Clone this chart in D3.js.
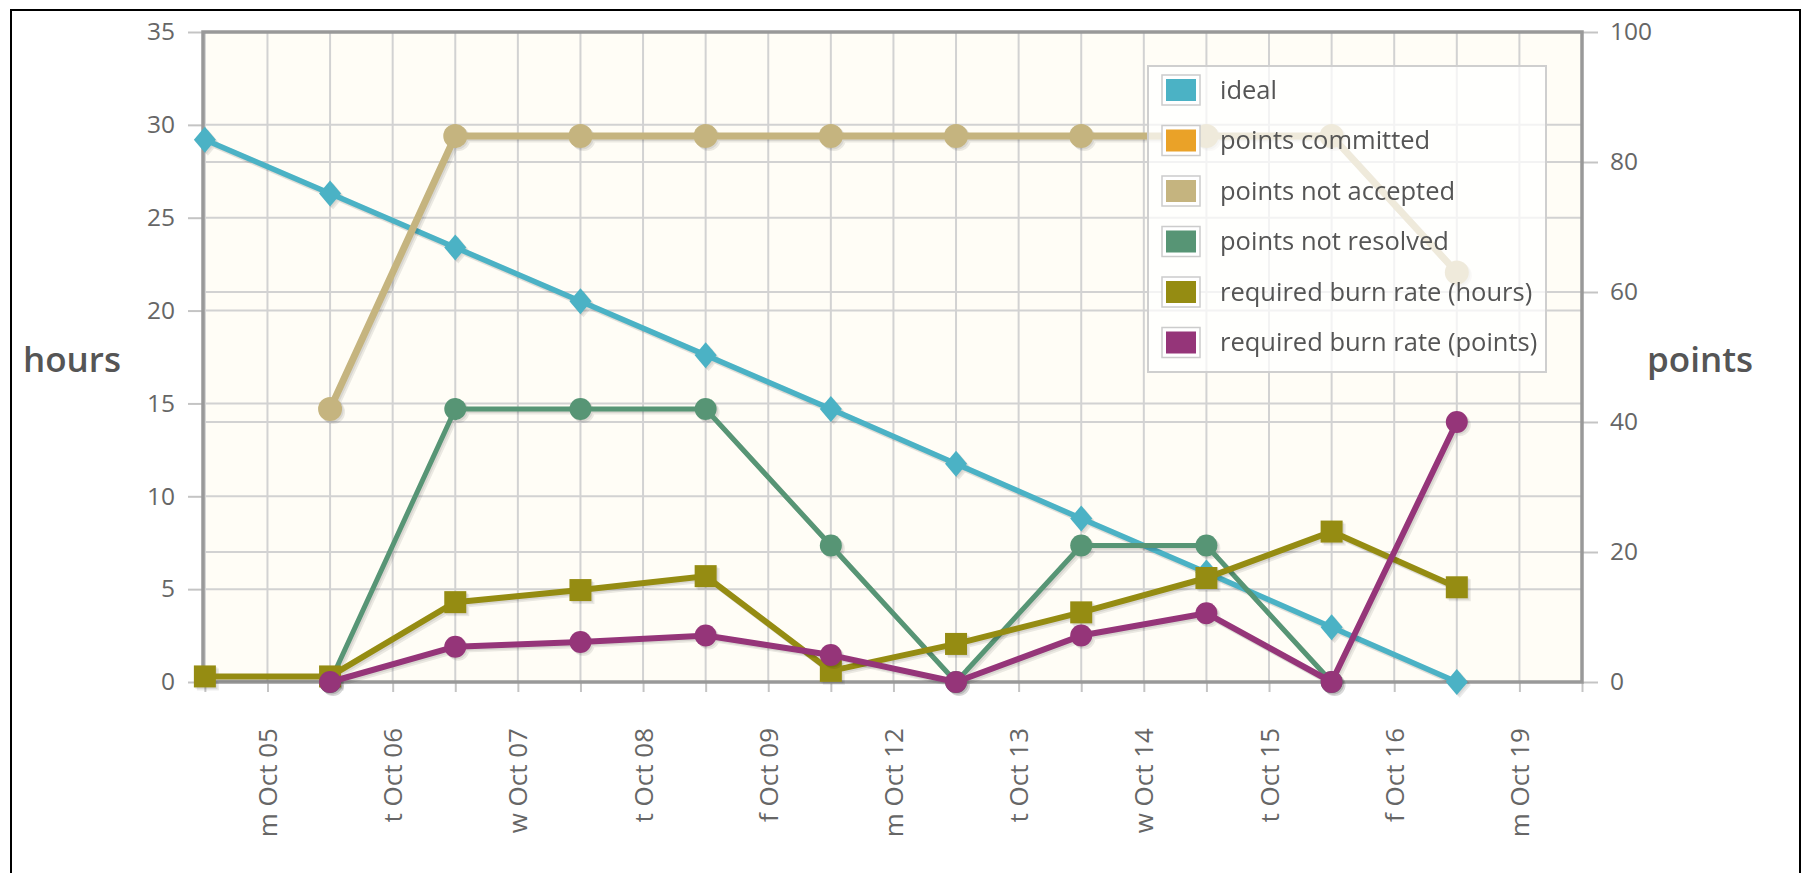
<!DOCTYPE html>
<html>
<head>
<meta charset="utf-8">
<script src="https://cdn.jsdelivr.net/npm/d3@7"></script>
<style>
  body { margin: 0; background: #fff; }
  svg { display: block; font-family: "Open Sans", sans-serif; }
</style>
</head>
<body>
<svg width="1802" height="873"></svg>
<script>
// day labels sit between the daily points
var days = ["m Oct 05", "t Oct 06", "w Oct 07", "t Oct 08", "f Oct 09", "m Oct 12",
            "t Oct 13", "w Oct 14", "t Oct 15", "f Oct 16", "m Oct 19"];
var hoursTicks = [0, 5, 10, 15, 20, 25, 30, 35];
var pointsTicks = [0, 20, 40, 60, 80, 100];

// values per point (index 0..10)
var ideal = [29.2, 26.3, 23.4, 20.5, 17.6, 14.7, 11.75, 8.8, 5.9, 2.95, 0];            // hours
var pointsCommitted = [];                                                               // points
var pointsNotAccepted = [null, 42, 84, 84, 84, 84, 84, 84, 84, 84, 63];                 // points
var pointsNotResolved = [null, 0, 42, 42, 42, 21, 0, 21, 21, 0, null];                  // points
var burnHours = [0.3, 0.3, 4.3, 4.95, 5.7, 0.6, 2.05, 3.75, 5.6, 8.1, 5.1];             // hours
var burnPoints = [null, 0, 1.9, 2.15, 2.5, 1.45, 0, 2.5, 3.7, 0, 14.0];                 // hours

var svg = d3.select("svg");

var plotLeft = 203, plotRight = 1582, plotTop = 32, plotBottom = 682;

var x = d3.scaleLinear().domain([-0.015, 11]).range([plotLeft, plotRight]);
var yH = d3.scaleLinear().domain([0, 35]).range([plotBottom, plotTop]);
var yP = d3.scaleLinear().domain([0, 100]).range([plotBottom, plotTop]);

// outer frame
svg.append("rect")
    .attr("x", 11).attr("y", 10).attr("width", 1789).attr("height", 880)
    .attr("fill", "none").attr("stroke", "#000").attr("stroke-width", 2);

// plot background
svg.append("rect")
    .attr("x", plotLeft).attr("y", plotTop)
    .attr("width", plotRight - plotLeft).attr("height", plotBottom - plotTop)
    .attr("fill", "#fffdf6");

// grid
var halfSteps = d3.range(0, 11.01, 0.5);
var grid = svg.append("g").attr("stroke", "#d2d2d2").attr("stroke-width", 2);
grid.selectAll(".vx").data(halfSteps).join("line")
    .attr("x1", function(d) { return x(d); }).attr("x2", function(d) { return x(d); })
    .attr("y1", plotTop).attr("y2", plotBottom);
grid.selectAll(".hh").data(hoursTicks).join("line")
    .attr("x1", plotLeft).attr("x2", plotRight)
    .attr("y1", function(d) { return yH(d); }).attr("y2", function(d) { return yH(d); });
grid.selectAll(".hp").data(pointsTicks).join("line")
    .attr("x1", plotLeft).attr("x2", plotRight)
    .attr("y1", function(d) { return yP(d); }).attr("y2", function(d) { return yP(d); });

// axes
var xAxis = svg.append("g")
    .attr("transform", "translate(0," + plotBottom + ")")
    .call(d3.axisBottom(x).tickValues(halfSteps).tickSize(10)
      .tickFormat(function(d) { return d % 1 === 0.5 ? days[Math.floor(d)] : ""; }));
xAxis.selectAll("text")
    .attr("transform", "rotate(-90)")
    .attr("text-anchor", "end")
    .attr("x", -46).attr("y", 0).attr("dy", "0.35em");

var yAxisL = svg.append("g")
    .attr("transform", "translate(" + plotLeft + ",0)")
    .call(d3.axisLeft(yH).tickValues(hoursTicks).tickSize(15).tickPadding(13));

var yAxisR = svg.append("g")
    .attr("transform", "translate(" + plotRight + ",0)")
    .call(d3.axisRight(yP).tickValues(pointsTicks).tickSize(16).tickPadding(12));

svg.selectAll(".domain").remove();
[xAxis, yAxisL, yAxisR].forEach(function(a) {
  a.attr("font-family", null).attr("font-size", null);
  a.selectAll("line").attr("stroke", "#c4c4c4").attr("stroke-width", 2);
  a.selectAll("text").attr("fill", "#666").style("font-size", "24.5px");
});
xAxis.selectAll("text").style("font-size", "26px");

// plot border
svg.append("rect")
    .attr("x", plotLeft).attr("y", plotTop)
    .attr("width", plotRight - plotLeft).attr("height", plotBottom - plotTop)
    .attr("fill", "none").attr("stroke", "#999").attr("stroke-width", 3.5);

// axis titles
svg.append("text").attr("x", 72).attr("y", 372).attr("text-anchor", "middle")
    .attr("fill", "#555").style("font-size", "35px").style("font-weight", 600).text("hours");
svg.append("text").attr("x", 1700).attr("y", 372).attr("text-anchor", "middle")
    .attr("fill", "#555").style("font-size", "35px").style("font-weight", 600).text("points");

// series
var series = [
  {name: "ideal", color: "#4bb2c5", data: ideal, y: yH, width: 5.5, marker: "diamond"},
  {name: "points committed", color: "#EAA228", data: pointsCommitted, y: yP, width: 6, marker: "circle"},
  {name: "points not accepted", color: "#c5b47f", data: pointsNotAccepted, y: yP, width: 7, marker: "circle", r: 12},
  {name: "points not resolved", color: "#579575", data: pointsNotResolved, y: yP, width: 5, marker: "circle", r: 11},
  {name: "required burn rate (hours)", color: "#958c12", data: burnHours, y: yH, width: 6, marker: "square"},
  {name: "required burn rate (points)", color: "#953579", data: burnPoints, y: yH, width: 6, marker: "circle", r: 11}
];

var plot = svg.append("g");

series.forEach(function(s) {
  var pts = s.data.map(function(v, i) { return {i: i, v: v}; });
  var line = d3.line()
      .defined(function(d) { return d.v != null; })
      .x(function(d) { return x(d.i); })
      .y(function(d) { return s.y(d.v); });
  var kept = pts.filter(function(d) { return d.v != null; });

  function drawMarkers(g, fill) {
    if (s.marker === "circle") {
      g.selectAll("circle").data(kept).join("circle")
          .attr("cx", function(d) { return x(d.i); })
          .attr("cy", function(d) { return s.y(d.v); })
          .attr("r", s.r || 11).attr("fill", fill);
    } else if (s.marker === "square") {
      g.selectAll("rect").data(kept).join("rect")
          .attr("x", function(d) { return x(d.i) - 11; })
          .attr("y", function(d) { return s.y(d.v) - 11; })
          .attr("width", 22).attr("height", 22).attr("fill", fill);
    } else {
      g.selectAll("path").data(kept).join("path")
          .attr("transform", function(d) { return "translate(" + x(d.i) + "," + s.y(d.v) + ")"; })
          .attr("d", "M0,-13L11,0L0,13L-11,0Z").attr("fill", fill);
    }
  }

  // shadow
  [1.5, 3].forEach(function(o) {
    var sh = plot.append("g").attr("transform", "translate(" + o + "," + o + ")").attr("opacity", 0.08);
    sh.append("path").datum(pts).attr("d", line)
        .attr("fill", "none").attr("stroke", "#000").attr("stroke-width", s.width)
        .attr("stroke-linejoin", "round");
    drawMarkers(sh.append("g"), "#000");
  });

  plot.append("path").datum(pts).attr("d", line)
      .attr("fill", "none").attr("stroke", s.color).attr("stroke-width", s.width)
      .attr("stroke-linejoin", "round");
  drawMarkers(plot.append("g"), s.color);
});

// legend
var legend = svg.append("g");
legend.append("rect")
    .attr("x", 1148).attr("y", 66).attr("width", 398).attr("height", 306)
    .attr("fill", "#fff").attr("fill-opacity", 0.72)
    .attr("stroke", "#cfcfcf").attr("stroke-width", 2);

var rows = legend.selectAll(".row").data(series).join("g")
    .attr("transform", function(d, i) { return "translate(0," + (90 + i * 50.5) + ")"; });
rows.append("rect")
    .attr("x", 1162).attr("y", -15).attr("width", 38).attr("height", 30)
    .attr("fill", "#fff").attr("stroke", "#ccc").attr("stroke-width", 1.5);
rows.append("rect")
    .attr("x", 1166).attr("y", -11).attr("width", 30).attr("height", 22)
    .attr("fill", function(d) { return d.color; });
rows.append("text")
    .attr("x", 1220).attr("y", 0).attr("dy", "0.35em")
    .attr("fill", "#555").style("font-size", "25.5px")
    .text(function(d) { return d.name; });
</script>
</body>
</html>
